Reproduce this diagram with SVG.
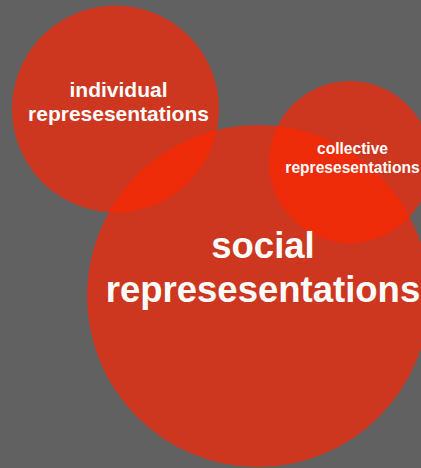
<svg xmlns="http://www.w3.org/2000/svg" width="421" height="468" viewBox="0 0 421 468">
<style>
.c{fill:#cd3720}
.o{fill:#ef2c0a}
.t{fill:#ffffff;font-family:"Liberation Sans",Arial,sans-serif;font-weight:bold;text-anchor:middle}
</style>
<defs>
<clipPath id="cs"><circle cx="258" cy="296" r="171"/></clipPath>
</defs>
<rect width="421" height="468" fill="#616161"/>
<g id="social"><circle class="c" cx="258" cy="296" r="171"/></g>
<g id="individual"><circle class="c" cx="115.5" cy="109" r="103.5"/></g>
<g id="collective"><circle class="c" cx="350" cy="162" r="81"/></g>
<g id="overlaps" clip-path="url(#cs)">
<circle class="o" cx="115.5" cy="109" r="103.5"/>
<circle class="o" cx="350" cy="162" r="81"/>
</g>
<g id="labels">
<text class="t" x="118.5" y="96.5" font-size="21">individual</text>
<text class="t" x="118.5" y="120.5" font-size="21">represesentations</text>
<text class="t" x="352.5" y="154" font-size="15.6">collective</text>
<text class="t" x="352.5" y="172.5" font-size="15.6">represesentations</text>
<text class="t" x="263" y="258" font-size="36.5">social</text>
<text class="t" x="263" y="302" font-size="36.5">represesentations</text>
</g>
</svg>
